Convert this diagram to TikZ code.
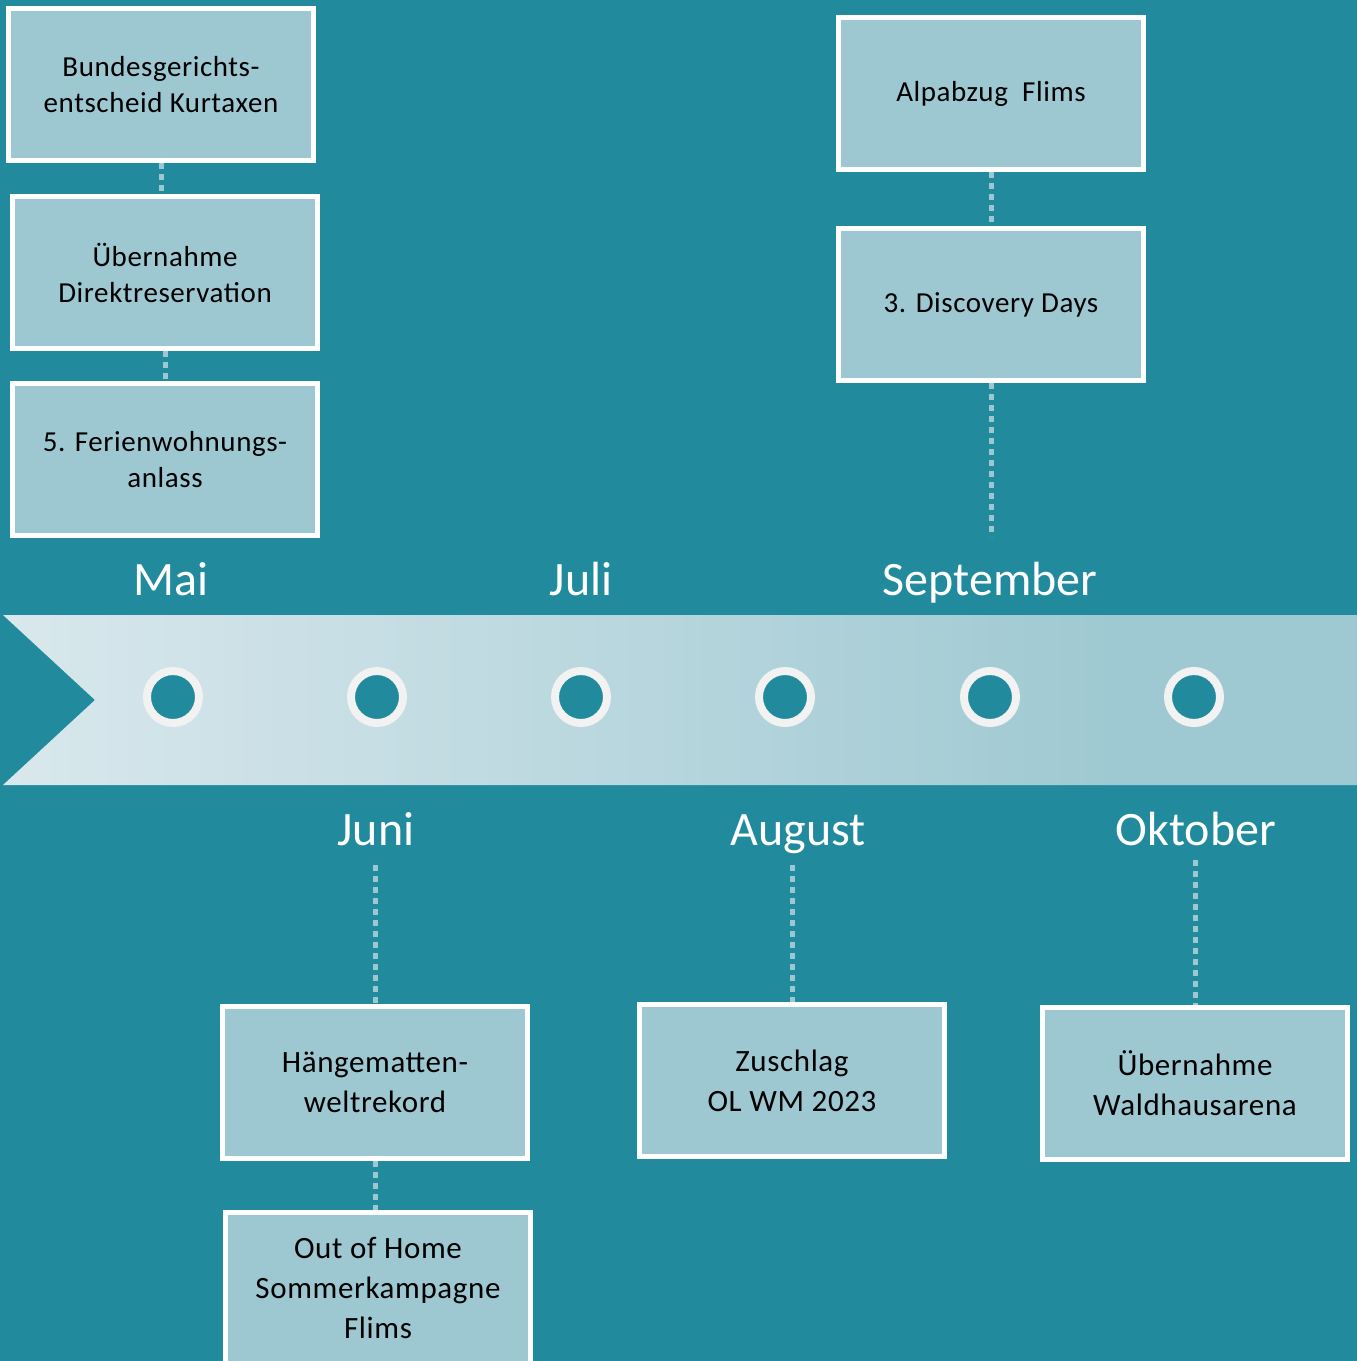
\documentclass[tikz,border=0pt]{standalone}
\usepackage{fontspec}
\setmainfont{Carlito}
\newfontfamily\boxfont[LetterSpace=2]{Carlito}
\usetikzlibrary{calc}
\definecolor{teal}{HTML}{218B9D}
\definecolor{boxfill}{HTML}{9DC8D1}
\definecolor{bandleft}{HTML}{D9E8ED}
\definecolor{bandright}{HTML}{9FC9D2}
\definecolor{ring}{HTML}{F2F2F2}
\pgfdeclarehorizontalshading{bandshade}{100bp}{color(0bp)=(bandleft); color(25bp)=(bandleft);
  color(66bp)=(bandright); color(100bp)=(bandright)}
\tikzset{
  event/.style={draw=white, line width=5pt, fill=boxfill, minimum width=305pt,
    minimum height=152pt, align=center, text=black,
    font=\boxfont\fontsize{29}{36}\selectfont},
  eventlow/.style={event, font=\boxfont\fontsize{31}{40}\selectfont},
  month/.style={text=white, anchor=base, font=\fontsize{48}{56}\selectfont},
  link/.style={boxfill, line width=5pt, dash pattern=on 6pt off 5pt},
  dot/.style={draw=ring, fill=teal, line width=8pt}
}

\begin{document}
\begin{tikzpicture}[x=1pt,y=-1pt]
% Background
\useasboundingbox (0,0) rectangle (1357,1361);
\fill[teal] (0,0) rectangle (1357,1361);
% The band with the notch on the left
\shade[shading=bandshade]
  (3,615) -- (1357,615) -- (1357,785) -- (3,785) -- (95,700) -- cycle;
% Points on the band
\draw[dot] (173,697) circle (26);
\draw[dot] (377,697) circle (26);
\draw[dot] (581,697) circle (26);
\draw[dot] (785,697) circle (26);
\draw[dot] (990,697) circle (26);
\draw[dot] (1194,697) circle (26);
% Months above the band
\node[month] (mai) at (171,595) {Mai};
\node[month] (juli) at (581,595) {Juli};
\node[month] (sept) at (990,595) {September};
% Months below the band
\node[month] (juni) at (376,845) {Juni};
\node[month] (aug) at (798,845) {August};
\node[month] (okt) at (1196,845) {Oktober};
% Events in May
\node[event] (bger) at (161,84.5) {Bundesgerichts-\\entscheid Kurtaxen};
\node[event] (dres) at (165,272.5) {Übernahme\\Direktreservation};
\node[event] (fwa) at (165,459.5) {5. Ferienwohnungs-\\anlass};
% Events in September
\node[event] (alp) at (991,93.5) {Alpabzug~ Flims};
\node[event] (disc) at (991,304.5) {3. Discovery Days};
\coordinate (septtop) at (990,537);
% Events in June
\node[eventlow] (haeng) at (375,1082.5) {Hängematten-\\weltrekord};
\node[eventlow] (ooh) at (378,1288) {Out of Home\\Sommerkampagne\\Flims};
% Events in August and October
\node[eventlow] (olwm) at (792,1080.5) {Zuschlag\\OL WM 2023};
\node[eventlow] (wald) at (1195,1083.5) {Übernahme\\Waldhausarena};
% Ends of the links under the months
\coordinate (junitop) at ($(juni.base)+(0,20)$);
\coordinate (augtop) at ($(aug.base)+(0,20)$);
\coordinate (okttop) at ($(okt.base)+(0,15)$);
% Dotted links
\draw[link] (bger.south) -- (bger.south |- dres.north);
\draw[link] (dres.south) -- (dres.south |- fwa.north);
\draw[link] (alp.south) -- (alp.south |- disc.north);
\draw[link] (disc.south) -- (disc.south |- septtop);
\draw[link] (haeng.north |- junitop) -- (haeng.north);
\draw[link] (haeng.south) -- (haeng.south |- ooh.north);
\draw[link] (olwm.north |- augtop) -- (olwm.north);
\draw[link] (wald.north |- okttop) -- (wald.north);
\end{tikzpicture}
\end{document}
